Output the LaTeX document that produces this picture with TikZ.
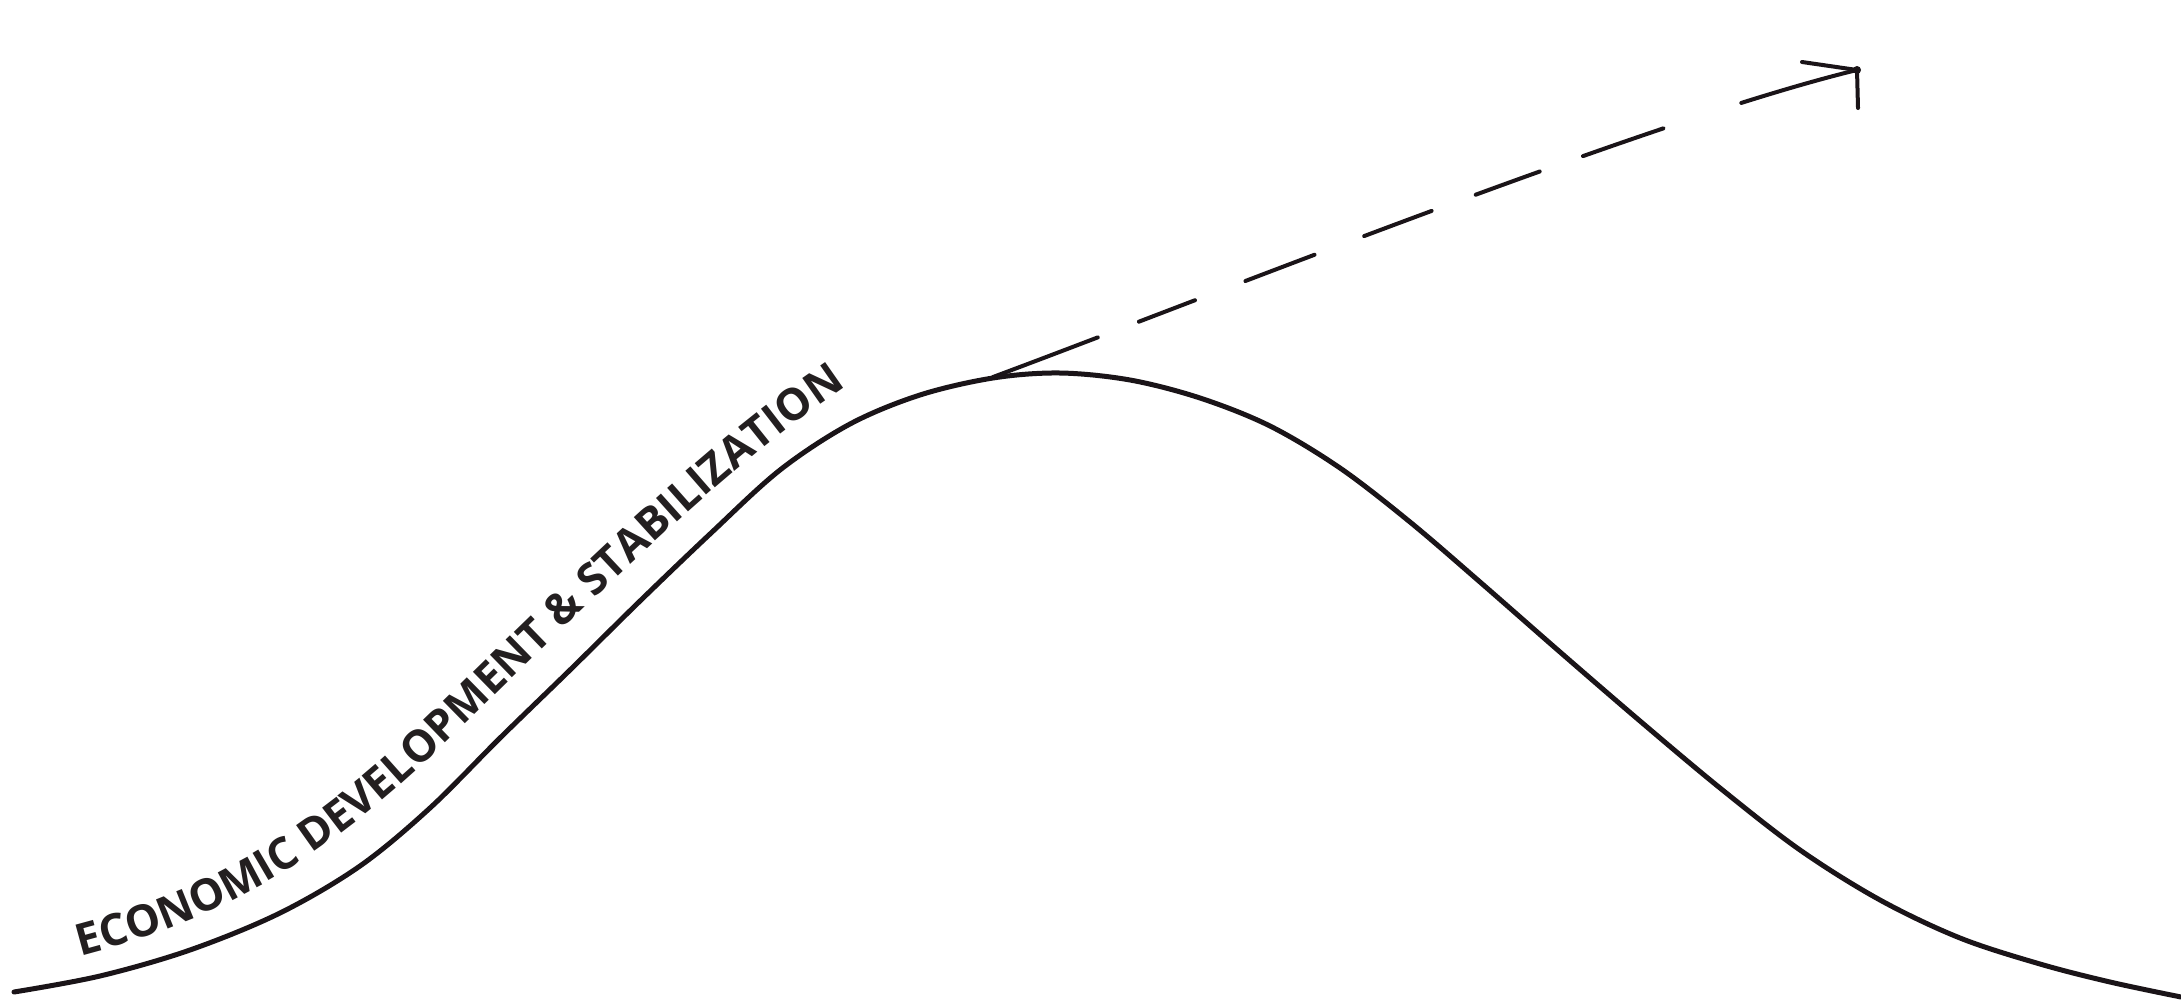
\documentclass[tikz,border=0pt]{standalone}
\usepackage{fontspec}
\newfontfamily\lblfont{Open Sans}
\usetikzlibrary{decorations.text}
\definecolor{ink}{HTML}{1A1418}
\definecolor{txt}{HTML}{231F20}
\begin{document}
\begin{tikzpicture}[x=1pt,y=-1pt,
  curveline/.style={draw=ink,line width=5pt,line cap=round,line join=round},
  dashline/.style={draw=ink,line width=4pt,line cap=round,
    dash pattern=on 112pt off 44pt on 60pt off 54pt on 74pt off 53pt on 72pt off 47pt on 68pt off 46pt on 85pt off 82pt on 200pt},
  barb/.style={draw=ink,line width=4pt,line cap=round}]
\fill[white] (0,0) rectangle (2181,1001);
\useasboundingbox (0,0) rectangle (2181,1001);
% main curve
\draw[curveline] plot[smooth,tension=0.55] coordinates {
 (14,992) (100,976) (190,950) (280,913) (360,866) (430,808) (500,738)
 (570,670) (640,601) (710,534) (780,470) (850,424) (920,395) (993,378)
 (1060,373) (1130,380) (1200,398) (1270,426) (1340,468) (1410,522)
 (1480,582) (1560,652) (1640,721) (1720,788) (1800,850) (1880,900)
 (1960,938) (2040,964) (2110,982) (2181,997)};
% text along the rising part (baseline path above the curve)
\path[decorate,decoration={text along path,
  text={|\lblfont\bfseries\fontsize{44}{44}\selectfont|ECONOMIC DEVELOPMENT {\&} STABILIZATION},
  text color=txt, text align={left indent=62pt}}]
  (20,970) .. controls (220,930) and (330,856) .. (460,729)
  .. controls (580,611) and (717,477) .. (817,407) -- (900,349);
% dashed arrow
\coordinate (dstart) at (993,377);
\coordinate (dtip) at (1857,70);
\coordinate (barbA) at (1802,62);
\coordinate (barbB) at (1858,108);
\draw[dashline] (dstart) .. controls (1200,300) and (1650,120) .. (dtip);
\draw[barb] (barbA) -- (dtip) -- (barbB);
\fill[ink] (dtip) circle (4pt);
\end{tikzpicture}
\end{document}
